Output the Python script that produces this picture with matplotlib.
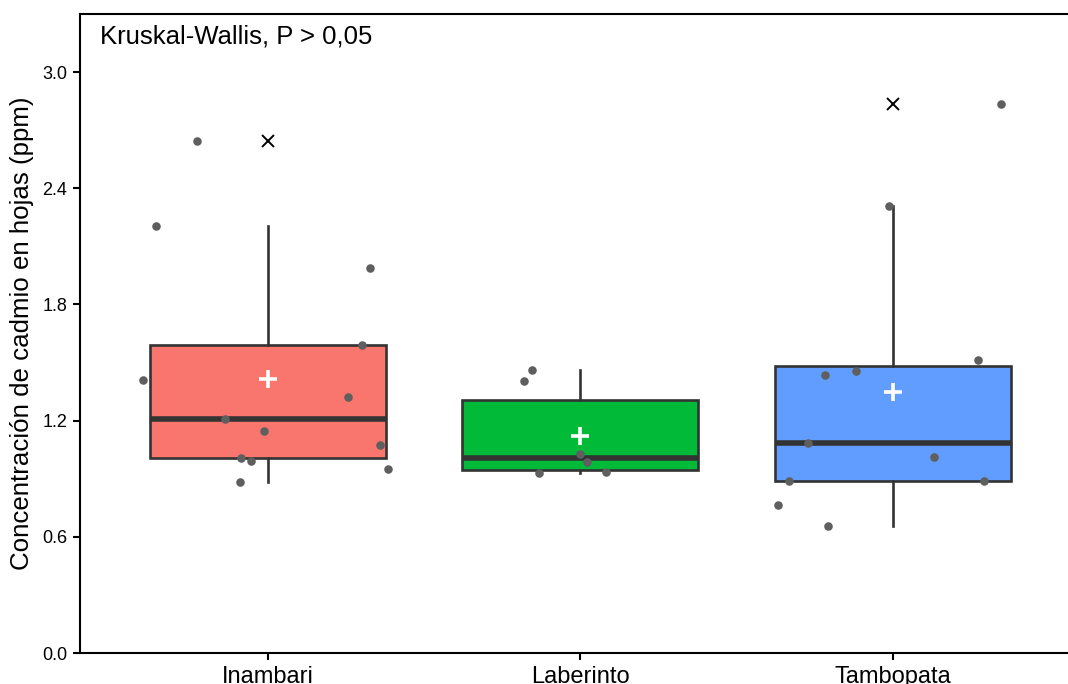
import matplotlib
matplotlib.use("Agg")
import matplotlib.pyplot as plt
import numpy as np

plt.rcParams['font.family'] = ['Liberation Sans', 'DejaVu Sans']

categories = ["Inambari", "Laberinto", "Tambopata"]
colors = ["#F8766D", "#00BA38", "#619CFF"]

inambari = [2.643, 2.203, 1.986, 1.589, 1.411, 1.322, 1.206, 1.144, 1.074, 1.005, 0.994, 0.952, 0.885]
inambari_jitter = [-0.227, -0.356, 0.329, 0.302, -0.398, 0.257, -0.137, -0.013, 0.358, -0.085, -0.054, 0.384, -0.087]

laberinto = [1.461, 1.403, 1.027, 0.984, 0.929, 0.934]
laberinto_jitter = [-0.154, -0.180, -0.002, 0.023, -0.133, 0.082]

tambopata = [2.836, 2.306, 1.513, 1.456, 1.435, 1.086, 1.012, 0.890, 0.890, 0.766, 0.658]
tambopata_jitter = [0.347, -0.014, 0.273, -0.119, -0.217, -0.273, 0.131, -0.333, 0.292, -0.368, -0.209]

data = [inambari, laberinto, tambopata]
jitters = [inambari_jitter, laberinto_jitter, tambopata_jitter]

yticks = [0.0, 0.6, 1.2, 1.8, 2.4, 3.0]
ylabel = "Concentración de cadmio en hojas (ppm)"
annotation = "Kruskal-Wallis, P > 0,05"

fig = plt.figure(figsize=(10.68, 6.84), dpi=100)
ax = fig.add_axes([0.0749, 0.0453, 0.9251, 0.9342])

pos = np.arange(len(categories))
edge = "#333333"
bp = ax.boxplot(data, positions=pos, widths=0.755, patch_artist=True,
                whis=1.5, showfliers=True,
                boxprops=dict(edgecolor=edge, linewidth=1.9),
                whiskerprops=dict(color=edge, linewidth=1.9),
                capprops=dict(linewidth=0),
                medianprops=dict(color=edge, linewidth=4.0, solid_capstyle='butt'),
                flierprops=dict(marker='x', markeredgecolor='black', markersize=8.5,
                                markeredgewidth=1.4, linestyle='none'),
                zorder=2)
for patch, c in zip(bp['boxes'], colors):
    patch.set_facecolor(c)

for i, (vals, jit) in enumerate(zip(data, jitters)):
    ax.scatter(i + np.array(jit), vals, s=38, color="#5f5f5f", zorder=4, linewidths=0)
    ax.plot(i, np.mean(vals), marker='+', color='white', markersize=13,
            markeredgewidth=2.6, zorder=5)

ax.set_xlim(-0.6, 2.56)
ax.set_ylim(0, 3.3)
ax.set_yticks(yticks)
ax.set_yticklabels([f"{t:.1f}" for t in yticks])
ax.set_xticks(pos)
ax.set_xticklabels(categories)
ax.set_ylabel(ylabel, fontsize=18.6, labelpad=6)

ax.tick_params(axis='y', labelsize=13, length=5, width=1.5, direction='out', pad=4)
ax.tick_params(axis='x', labelsize=17, length=5, width=1.5, direction='out', pad=4)

for s in ['left', 'bottom', 'top']:
    ax.spines[s].set_linewidth(1.5)
    ax.spines[s].set_color('black')
ax.spines['right'].set_visible(False)

ax.text(0.02, 0.9546, annotation, transform=ax.transAxes, fontsize=18.5,
        ha='left', va='baseline')

fig.savefig("out.png", dpi=100)
